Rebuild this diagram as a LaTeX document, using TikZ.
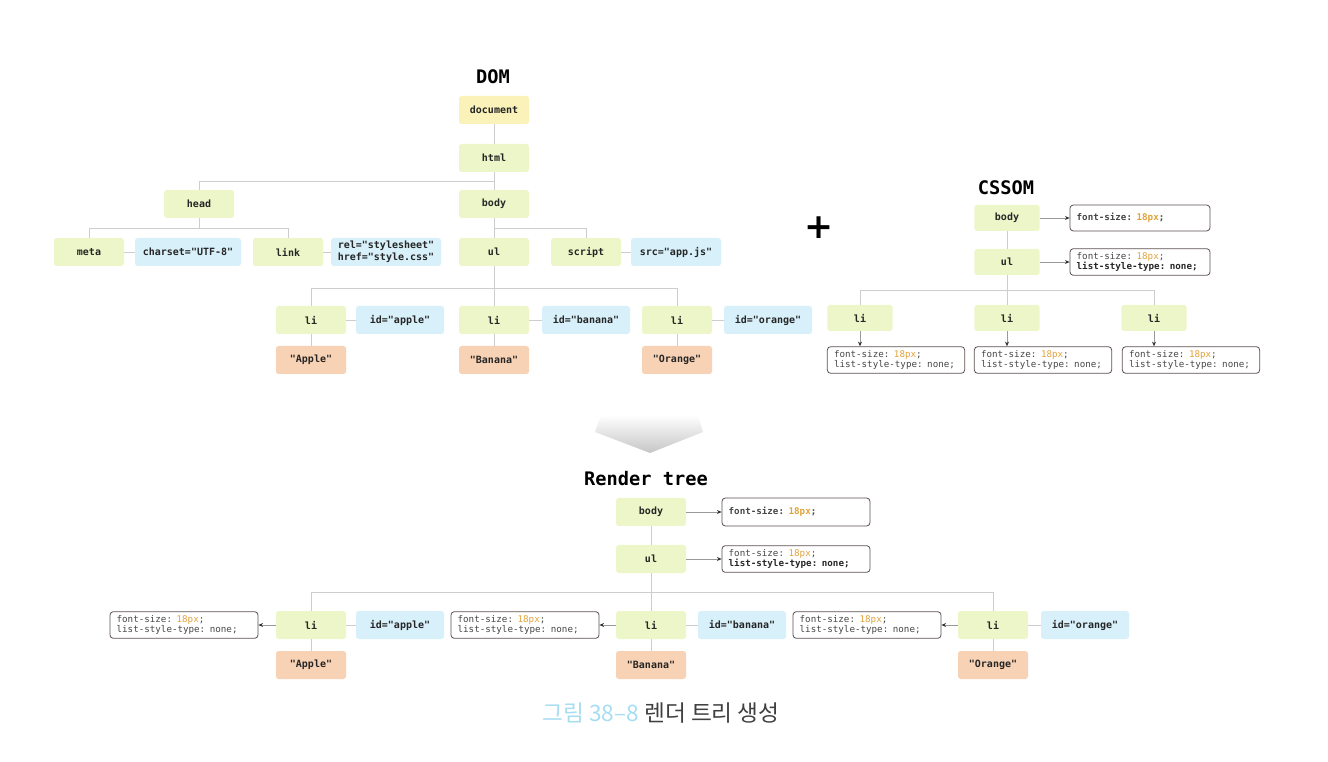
\documentclass[tikz,border=0pt]{standalone}
\usepackage{fontspec}
\setmonofont{DejaVu Sans Mono}
\newfontfamily\krfont{Noto Sans CJK KR}
\newfontfamily\plusfont{DejaVu Sans}
\usetikzlibrary{arrows.meta}
\definecolor{docyel}{HTML}{FAF2B8}
\definecolor{elgrn}{HTML}{EDF6C8}
\definecolor{atblu}{HTML}{D8F0FA}
\definecolor{txorg}{HTML}{F8D2B4}
\definecolor{linegr}{HTML}{CDCDCD}
\definecolor{rulebr}{HTML}{5E5050}
\definecolor{pxorg}{HTML}{E2A33A}
\definecolor{capblu}{HTML}{A6DDF2}
\newcommand{\szv}[1]{\textcolor{pxorg}{#1}}
\tikzset{
  el/.style={fill=elgrn, rounded corners=2pt, minimum width=52.5pt,
    minimum height=21pt, inner sep=1pt, text=black!85,
    font=\ttfamily\bfseries\fontsize{7.5}{9}\selectfont},
  cel/.style={el, minimum width=49pt, minimum height=19.5pt},
  attr/.style={el, fill=atblu, minimum width=#1},
  txt/.style={el, fill=txorg},
  rulebox/.style={draw=rulebr, fill=white, rounded corners=2.5pt,
    text width=#1, align=left, inner xsep=5pt, inner ysep=2.5pt,
    minimum height=20pt, text=black!72, line width=0.6pt,
    font=\ttfamily\fontsize{6.9}{8}\selectfont},
  title/.style={font=\ttfamily\bfseries\fontsize{14}{16}\selectfont},
  conn/.style={draw=linegr, line width=0.5pt},
  rarr/.style={draw=black!40, line width=0.5pt,
    -{Stealth[length=3.5pt,width=3pt,color=black!80]}}
}
\begin{document}
\begin{tikzpicture}[x=0.75pt,y=-0.75pt]
\useasboundingbox (0,0) rectangle (1328,762);

\node[title] (domtitle) at (493,77) {DOM};
\node[el, fill=docyel] (document) at (494,110) {document};
\node[el] (html) at (494,158) {html};
\node[el] (head) at (199,204) {head};
\node[el] (body) at (494,204) {body};
\node[el] (meta) at (89,252) {meta};
\node[attr=79.5pt] (charset) at (188,252) {charset="UTF-8"};
\node[el] (link) at (288,252) {link};
\node[attr=82.5pt, align=left] (relhref) at (386,252) {rel="stylesheet"\\href="style.css"};
\node[el] (ul) at (494,252) {ul};
\node[el] (script) at (586,252) {script};
\node[attr=67.5pt] (src) at (676,252) {src="app.js"};
\node[el] (li1) at (311,320) {li};
\node[attr=66pt] (idapple) at (400,320) {id="apple"};
\node[el] (li2) at (494,320) {li};
\node[attr=66pt] (idbanana) at (586,320) {id="banana"};
\node[el] (li3) at (677,320) {li};
\node[attr=66pt] (idorange) at (768,320) {id="orange"};
\node[txt] (apple) at (311,360) {"Apple"};
\node[txt] (banana) at (494,360) {"Banana"};
\node[txt] (orange) at (677,360) {"Orange"};

\draw[conn] (document) -- (html);
\draw[conn] (html.south) -- ++(0,9) -| (head.north);
\draw[conn] (html) -- (body);
\draw[conn] (head.south) -- ++(0,10) -| (meta.north);
\draw[conn] (head.south) -- ++(0,10) -| (link.north);
\draw[conn] (body) -- (ul);
\draw[conn] (body.south) -- ++(0,10) -| (script.north);
\draw[conn] (meta) -- (charset);
\draw[conn] (link) -- (relhref);
\draw[conn] (script) -- (src);
\draw[conn] (ul.south) -- ++(0,22) -| (li1.north);
\draw[conn] (ul) -- (li2);
\draw[conn] (ul.south) -- ++(0,22) -| (li3.north);
\draw[conn] (li1) -- (idapple);
\draw[conn] (li2) -- (idbanana);
\draw[conn] (li3) -- (idorange);
\draw[conn] (li1) -- (apple);
\draw[conn] (li2) -- (banana);
\draw[conn] (li3) -- (orange);

\node[font=\plusfont\bfseries\fontsize{26}{26}\selectfont] (plus) at (819,228) {+};

\node[title] (csstitle) at (1006,188) {CSSOM};
\node[cel] (cbody) at (1007,218) {body};
\node[cel] (cul) at (1007,262) {ul};
\node[cel] (cli1) at (860,318) {li};
\node[cel] (cli2) at (1007,318) {li};
\node[cel] (cli3) at (1154,318) {li};
\node[rulebox=95pt, minimum height=19.5pt] (crule1) at (1140,218)
  {\textbf{font-size: \szv{18px};}};
\node[rulebox=95pt] (crule2) at (1140,262)
  {font-size: \szv{18px};\\\textbf{\color{black!85}list-style-type: none;}};
\node[rulebox=93pt] (crule3) at (896,360) {font-size: \szv{18px};\\list-style-type: none;};
\node[rulebox=93pt] (crule4) at (1043,360) {font-size: \szv{18px};\\list-style-type: none;};
\node[rulebox=93pt] (crule5) at (1191,360) {font-size: \szv{18px};\\list-style-type: none;};

\draw[conn] (cbody) -- (cul);
\draw[conn] (cul.south) -- ++(0,15) -| (cli1.north);
\draw[conn] (cul) -- (cli2);
\draw[conn] (cul.south) -- ++(0,15) -| (cli3.north);
\draw[rarr] (cbody) -- (crule1);
\draw[rarr] (cul) -- (crule2);
\draw[rarr] (cli1.south) -- (cli1.south |- crule3.north);
\draw[rarr] (cli2.south) -- (cli2.south |- crule4.north);
\draw[rarr] (cli3.south) -- (cli3.south |- crule5.north);

\shade[top color=white, bottom color=gray!45] (601,415) -- (698,415) -- (703,432)
  -- (650,453) -- (595,432) -- cycle;

\node[title] (rtitle) at (646,479) {Render tree};
\node[el] (rbody) at (651,512) {body};
\node[el] (rul) at (651,559) {ul};
\node[rulebox=101pt, minimum height=21pt] (rrule1) at (796,512)
  {\textbf{font-size: \szv{18px};}};
\node[rulebox=101pt] (rrule2) at (796,559)
  {font-size: \szv{18px};\\\textbf{\color{black!85}list-style-type: none;}};
\node[el] (rli1) at (311,625) {li};
\node[attr=66pt] (ridapple) at (400,625) {id="apple"};
\node[el] (rli2) at (651,625) {li};
\node[attr=66pt] (ridbanana) at (742,625) {id="banana"};
\node[el] (rli3) at (993,625) {li};
\node[attr=66pt] (ridorange) at (1085,625) {id="orange"};
\node[rulebox=101pt] (rrule3) at (184,625) {font-size: \szv{18px};\\list-style-type: none;};
\node[rulebox=101pt] (rrule4) at (525,625) {font-size: \szv{18px};\\list-style-type: none;};
\node[rulebox=101pt] (rrule5) at (867,625) {font-size: \szv{18px};\\list-style-type: none;};
\node[txt] (rapple) at (311,665) {"Apple"};
\node[txt] (rbanana) at (651,665) {"Banana"};
\node[txt] (rorange) at (993,665) {"Orange"};

\draw[conn] (rbody) -- (rul);
\draw[rarr] (rbody) -- (rrule1);
\draw[rarr] (rul) -- (rrule2);
\draw[conn] (rul.south) -- ++(0,19) -| (rli1.north);
\draw[conn] (rul) -- (rli2);
\draw[conn] (rul.south) -- ++(0,19) -| (rli3.north);
\draw[rarr] (rli1) -- (rrule3);
\draw[rarr] (rli2) -- (rrule4);
\draw[rarr] (rli3) -- (rrule5);
\draw[conn] (rli1) -- (ridapple);
\draw[conn] (rli2) -- (ridbanana);
\draw[conn] (rli3) -- (ridorange);
\draw[conn] (rli1) -- (rapple);
\draw[conn] (rli2) -- (rbanana);
\draw[conn] (rli3) -- (rorange);

\node[font=\krfont\fontsize{17}{20}\selectfont, text=black!75] (caption) at (661,713)
  {\textcolor{capblu}{그림 38–8} 렌더 트리 생성};
\end{tikzpicture}
\end{document}
